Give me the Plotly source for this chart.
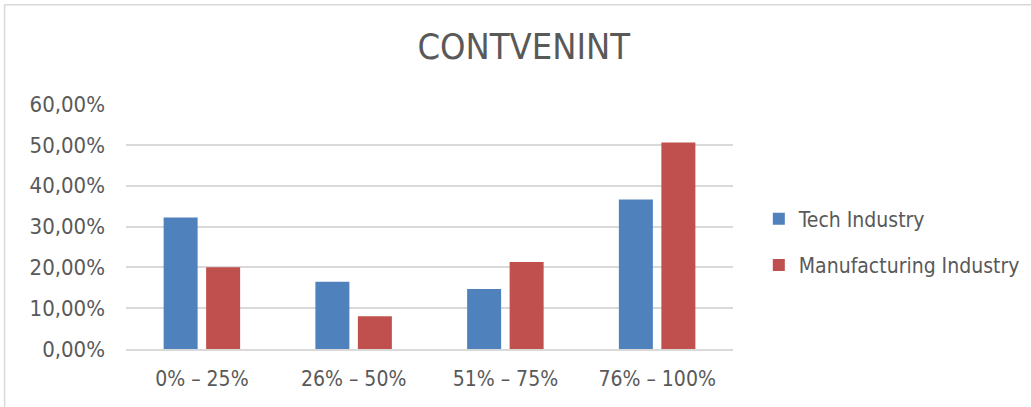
import plotly.graph_objects as go

categories = ["0% – 25%", "26% – 50%", "51% – 75%", "76% – 100%"]
tech_values = [0.322, 0.165, 0.147, 0.366]
manu_values = [0.200, 0.080, 0.213, 0.506]
series_names = ["Tech Industry", "Manufacturing Industry"]
title_text = "CONTVENINT"

text_color = "#595959"
font_family = "DejaVu Sans Condensed, DejaVu Sans, sans-serif"

fig = go.Figure()
fig.add_trace(go.Bar(x=categories, y=tech_values, name=series_names[0], legendgroup="a",
                     marker=dict(color="#4F81BD", line=dict(width=0))))
fig.add_trace(go.Bar(x=categories, y=manu_values, name=series_names[1], legendgroup="b",
                     marker=dict(color="#C0504D", line=dict(width=0))))

fig.update_layout(
    width=1031, height=407,
    margin=dict(l=126, r=298, t=104, b=58, autoexpand=False),
    paper_bgcolor="white", plot_bgcolor="white",
    separators=", ",
    barmode="group", bargap=0.44, bargroupgap=0.2,
    font=dict(family=font_family, size=21, color=text_color),
    title=dict(text=title_text, x=0.508, xanchor="center", y=0.885, yanchor="middle",
               font=dict(family=font_family, size=36, color=text_color)),
    legend=dict(xref="container", yref="container", x=0.736, xanchor="left",
                y=0.405, yanchor="middle",
                font=dict(size=21, color=text_color), tracegroupgap=16,
                traceorder="grouped", itemwidth=30, bgcolor="rgba(0,0,0,0)"),
    xaxis=dict(showgrid=False, showline=True, linecolor="#d9d9d9", linewidth=1.5,
               ticks="", ticklabelstandoff=10, tickfont=dict(size=21, color=text_color)),
    yaxis=dict(range=[0, 0.6], dtick=0.1, tickformat=".2%", showgrid=True,
               gridcolor="#d9d9d9", gridwidth=1.5, zeroline=False, showline=False,
               ticks="", ticklabelstandoff=20, tickfont=dict(size=22, color=text_color)),
    shapes=[
        dict(type="line", xref="paper", yref="paper", x0=-0.2, x1=1.6, y0=1.405, y1=1.405,
             line=dict(color="#d9d9d9", width=1.5)),
        dict(type="line", xref="paper", yref="paper", x0=-0.2, x1=-0.2, y0=1.405, y1=-0.3,
             line=dict(color="#d9d9d9", width=1.5)),
    ],
)

fig.write_html("out.html")
